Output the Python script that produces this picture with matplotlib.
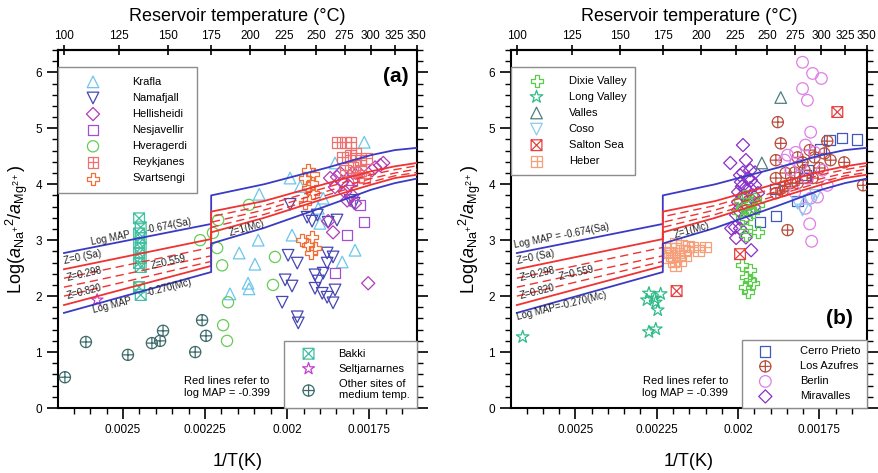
import numpy as np
import matplotlib
matplotlib.use("Agg")
import matplotlib.pyplot as plt
from matplotlib.path import Path
from matplotlib.ticker import MultipleLocator, FuncFormatter, NullLocator

plt.rcParams['font.family'] = ['Liberation Sans', 'DejaVu Sans']
plt.rcParams['mathtext.fontset'] = 'custom'
plt.rcParams['mathtext.rm'] = 'Liberation Sans'
plt.rcParams['mathtext.it'] = 'Liberation Sans:italic'

# ---- model lines (reservoir temperature in degC, log activity ratio) ----
LINE_T = [100, 175, 175, 210, 260, 300, 325, 350]
BLUE_SA = [2.77, 3.29, 3.80, 4.00, 4.30, 4.52, 4.61, 4.65]
RED_Z0 = [2.48, 3.02, 3.51, 3.70, 4.02, 4.23, 4.32, 4.38]
DASH_Z0298 = [2.32, 2.87, 3.42, 3.62, 3.95, 4.17, 4.26, 4.33]
DASH_Z0559 = [2.16, 2.72, 3.32, 3.54, 3.88, 4.10, 4.20, 4.27]
DASH_Z0820 = [2.00, 2.62, 3.23, 3.46, 3.81, 4.04, 4.15, 4.21]
RED_Z1 = [1.84, 2.54, 3.14, 3.40, 3.76, 3.99, 4.11, 4.17]
BLUE_MC = [1.70, 2.43, 2.94, 3.22, 3.62, 3.90, 4.02, 4.10]

TOP_TICKS_C = [100, 125, 150, 175, 200, 225, 250, 275, 300, 325, 350]
BOTTOM_TICKS = [0.0025, 0.00225, 0.002, 0.00175]

# ---- panel (a): Iceland ----
KRAFLA_X = [0.002085, 0.002088, 0.002146, 0.002098, 0.002119, 0.002116, 0.002174, 0.001991, 0.00196,
            0.001985, 0.0019, 0.00189, 0.001905, 0.001854, 0.001765, 0.001793, 0.001832]
KRAFLA_Y = [3.82, 3.00, 2.77, 2.57, 2.23, 2.13, 2.04, 4.11, 3.96, 3.09, 3.30, 3.75, 3.57, 4.38, 4.75, 2.82, 2.61]

NAMAFJALL_X = [0.001991, 0.001939, 0.001924, 0.001908, 0.001997, 0.001969, 0.002006, 0.001985, 0.002015,
               0.001969, 0.001966, 0.001915, 0.001905, 0.001915, 0.00189, 0.001878, 0.00186, 0.001878,
               0.001893, 0.001878, 0.00186, 0.001854, 0.001848, 0.001875, 0.001808, 0.001796]
NAMAFJALL_Y = [3.64, 3.41, 3.34, 3.45, 2.73, 2.59, 2.29, 2.18, 1.89, 1.63, 1.52, 2.38, 2.27, 2.14, 2.41,
               2.77, 2.70, 2.59, 2.05, 1.98, 1.88, 2.11, 3.36, 3.32, 3.71, 3.66]

HELLISHEIDI_X = [0.001869, 0.001848, 0.001832, 0.001854, 0.001814, 0.001823, 0.001802, 0.001783, 0.001741,
                 0.001716, 0.001707, 0.001732, 0.001799, 0.001875, 0.00186, 0.001753, 0.001838, 0.001817,
                 0.001793]
HELLISHEIDI_Y = [4.11, 4.13, 4.04, 3.95, 3.98, 3.86, 3.80, 4.21, 4.25, 4.34, 4.38, 4.30, 4.20, 3.34, 3.14,
                 2.23, 4.20, 3.71, 3.66]

NESJAVELLIR_X = [0.001777, 0.001765, 0.001817, 0.001854, 0.001802]
NESJAVELLIR_Y = [3.63, 3.32, 3.09, 2.41, 4.07]

HVERAGERDI_X = [0.002116, 0.00221, 0.002226, 0.002265, 0.002213, 0.002198, 0.00218, 0.002195, 0.002183,
                0.002037, 0.002043, 0.002451]
HVERAGERDI_Y = [3.63, 3.36, 3.13, 3.00, 2.86, 2.55, 1.89, 1.48, 1.20, 2.70, 2.20, 2.16]

REYKJANES_X = [0.001848, 0.001823, 0.001805, 0.001832, 0.001808, 0.00179, 0.001777, 0.001759, 0.001799,
               0.001777, 0.001783, 0.001823, 0.001765]
REYKJANES_Y = [4.75, 4.75, 4.75, 4.48, 4.52, 4.55, 4.43, 4.46, 4.30, 4.25, 4.13, 4.25, 4.11]

SVARTSENGI_X = [0.001936, 0.001921, 0.001945, 0.001924, 0.001936, 0.001921, 0.001945, 0.001954, 0.001924,
                0.001936, 0.001915, 0.001927]
SVARTSENGI_Y = [4.25, 4.18, 4.11, 4.02, 3.93, 3.84, 3.66, 3.00, 3.05, 2.91, 2.86, 2.77]

BAKKI_X = [0.002451, 0.002446, 0.002451, 0.002446, 0.002451, 0.002446, 0.002451, 0.002446, 0.002451,
           0.002446, 0.002451, 0.002446]
BAKKI_Y = [3.39, 3.23, 3.12, 3.04, 2.95, 2.86, 2.77, 2.68, 2.59, 2.52, 2.16, 2.02]

SELTJ_X = [0.002579]
SELTJ_Y = [1.93]

OTHER_X = [0.002677, 0.002613, 0.002485, 0.002412, 0.002387, 0.002378, 0.00228, 0.002259, 0.002247]
OTHER_Y = [0.55, 1.18, 0.95, 1.16, 1.20, 1.38, 1.00, 1.57, 1.29]

# ---- panel (b): USA / Central America ----
DIXIE_X = [0.001994, 0.001979, 0.001963, 0.001948, 0.001985, 0.001969, 0.002, 0.001954, 0.001976, 0.001939,
           0.001976, 0.001976, 0.001963, 0.001976, 0.001954, 0.001979, 0.001963, 0.001969, 0.001988, 0.001939]
DIXIE_Y = [3.71, 3.79, 3.66, 3.73, 3.59, 3.54, 3.50, 3.50, 3.39, 3.14, 3.23, 3.09, 2.46, 2.34, 2.23, 2.16,
           2.29, 2.07, 2.55, 3.63]

LONGV_X = [0.002662, 0.002274, 0.002238, 0.002256, 0.00228, 0.002253, 0.002247, 0.002274, 0.002253]
LONGV_Y = [1.27, 2.05, 2.04, 1.96, 1.93, 1.89, 1.75, 1.36, 1.41]

VALLES_X = [0.001869, 0.001927]
VALLES_Y = [5.55, 4.38]

COSO_X = [0.00178, 0.001762, 0.001802, 0.001817]
COSO_Y = [3.71, 3.80, 3.54, 3.66]

SALTON_X = [0.002189, 0.001994, 0.001695]
SALTON_Y = [2.09, 2.75, 5.29]

HEBER_X = [0.002207, 0.002192, 0.002174, 0.002152, 0.00214, 0.002101, 0.002204, 0.002183, 0.002162,
           0.002198, 0.002177, 0.002192, 0.002122, 0.00221, 0.002165, 0.002216]
HEBER_Y = [2.86, 2.95, 2.91, 2.89, 2.88, 2.88, 2.73, 2.77, 2.73, 2.61, 2.64, 2.54, 2.82, 2.79, 2.82, 2.68]

CERRO_X = [0.001719, 0.00168, 0.001634, 0.001747, 0.001793, 0.001796, 0.001787, 0.001887, 0.001884,
           0.001933, 0.001817]
CERRO_Y = [4.79, 4.82, 4.80, 4.63, 4.16, 4.11, 4.25, 3.91, 3.43, 3.32, 3.70]

AZUFRES_X = [0.001878, 0.001869, 0.001848, 0.001884, 0.001854, 0.001884, 0.001857, 0.001884, 0.001863,
             0.001817, 0.001716, 0.001674, 0.001616, 0.001726, 0.001796, 0.001765, 0.00175, 0.001735,
             0.001826, 0.001838, 0.001817, 0.001802, 0.00178, 0.001771]
AZUFRES_Y = [5.11, 4.73, 3.18, 4.43, 4.20, 4.11, 3.96, 3.84, 3.88, 4.48, 4.43, 4.39, 3.98, 4.77, 4.25, 4.48,
             4.29, 4.55, 4.21, 4.02, 4.02, 4.39, 4.61, 4.11]

BERLIN_X = [0.001802, 0.001771, 0.001744, 0.001802, 0.001787, 0.001777, 0.001793, 0.001765, 0.001848,
            0.001823, 0.001808, 0.001787, 0.001777, 0.001793, 0.00178, 0.001774, 0.001857, 0.001838,
            0.001756, 0.001826, 0.001741, 0.001726]
BERLIN_Y = [6.18, 5.98, 5.89, 5.71, 5.50, 4.93, 4.70, 4.57, 4.52, 4.57, 4.34, 4.11, 3.75, 3.57, 3.29, 2.98,
            4.43, 4.25, 3.77, 3.86, 4.25, 3.98]

MIRAV_X = [0.001985, 0.002024, 0.001976, 0.001985, 0.001963, 0.001948, 0.00196, 0.001991, 0.001948, 0.002,
           0.001979, 0.001939, 0.002, 0.002, 0.002009, 0.001994, 0.001985, 0.002006, 0.001976, 0.00196,
           0.002021, 0.001969, 0.001985, 0.001954, 0.001976, 0.001994, 0.001963, 0.001969, 0.001988,
           0.001951, 0.002006]
MIRAV_Y = [4.70, 4.38, 4.43, 4.21, 4.25, 4.21, 4.07, 4.04, 3.98, 3.86, 3.93, 3.84, 3.68, 3.54, 3.23, 3.21,
           3.36, 3.04, 3.05, 2.82, 3.21, 4.11, 3.80, 3.80, 3.63, 4.16, 3.93, 3.71, 3.96, 3.59, 3.45]

BLUE = '#3a3ac4'
RED = '#f03232'

M, L, C = Path.MOVETO, Path.LINETO, Path.CLOSEPOLY
SQUARE_X = Path([(-1, -1), (1, -1), (1, 1), (-1, 1), (-1, -1), (-1, -1), (1, 1), (-1, 1), (1, -1)],
                [M, L, L, L, C, M, L, M, L])
SQUARE_PLUS = Path([(-1, -1), (1, -1), (1, 1), (-1, 1), (-1, -1), (0, -1), (0, 1), (-1, 0), (1, 0)],
                   [M, L, L, L, C, M, L, M, L])
CIRCLE_PLUS = Path.make_compound_path(Path.unit_circle(),
                                      Path([(0, -1), (0, 1), (-1, 0), (1, 0)], [M, L, M, L]))


def inv_t(t):
    return 1.0 / (np.asarray(t, dtype=float) + 273.15)


def to_celsius(u):
    u = np.asarray(u, dtype=float)
    with np.errstate(divide='ignore'):
        return np.where(u > 0, 1.0 / np.where(u > 0, u, 1.0) - 273.15, 1e9)


def pts(ax, x, y, marker, color, label, s=55, lw=0.9):
    return ax.scatter(x, y, marker=marker, s=s, facecolors='none', edgecolors=color,
                      linewidths=lw, label=label, zorder=3)


def draw_model(ax):
    u = inv_t(LINE_T)
    ax.plot(u, BLUE_SA, color=BLUE, lw=1.3, zorder=4)
    ax.plot(u, RED_Z0, color=RED, lw=1.3, zorder=4)
    for vals in (DASH_Z0298, DASH_Z0559, DASH_Z0820):
        ax.plot(u, vals, color=RED, lw=1.0, dashes=(6, 3.5), zorder=4)
    ax.plot(u, RED_Z1, color=RED, lw=1.3, zorder=4)
    ax.plot(u, BLUE_MC, color=BLUE, lw=1.3, zorder=4)


def line_text(ax, x, y, s, rot):
    ax.text(x, y, s, fontsize=7, rotation=rot, rotation_mode='anchor', ha='left', va='baseline',
            color='#222222', zorder=5)


def style(ax):
    ax.set_xlim(0.002698, 0.001604)
    ax.set_ylim(0, 6.4)
    ax.set_xticks(BOTTOM_TICKS)
    ax.xaxis.set_major_formatter(FuncFormatter(lambda v, p: '%g' % v))
    ax.xaxis.set_minor_locator(MultipleLocator(0.00005))
    ax.yaxis.set_major_locator(MultipleLocator(1))
    ax.yaxis.set_minor_locator(MultipleLocator(0.2))
    ax.tick_params(which='major', direction='out', length=8, width=1.2, labelsize=8.5)
    ax.tick_params(which='minor', direction='out', length=4, width=1.0)
    ax.tick_params(axis='y', which='both', right=True)
    ax.tick_params(axis='x', which='both', top=False)
    for sp in ax.spines.values():
        sp.set_linewidth(1.5)
    ax.set_xlabel('1/T(K)', fontsize=13, labelpad=12)
    ax.set_ylabel(r'Log($a_{\mathrm{Na}^{+}}{}^{2}/a_{\mathrm{Mg}^{2+}}$)', fontsize=13, labelpad=4)
    sec = ax.secondary_xaxis('top', functions=(to_celsius, inv_t))
    sec.set_xticks(TOP_TICKS_C)
    sec.xaxis.set_minor_locator(NullLocator())
    sec.tick_params(direction='inout', length=7, width=1.2, labelsize=8.5, pad=2)
    sec.spines['top'].set_linewidth(1.5)
    sec.set_xlabel('Reservoir temperature (°C)', fontsize=13, labelpad=7)


def legend(ax, handles, loc, anchor, **kw):
    leg = ax.legend(handles=handles, loc=loc, bbox_to_anchor=anchor, borderaxespad=0, fontsize=8,
                    fancybox=False, framealpha=1, edgecolor='#8c8c8c', scatterpoints=1, **kw)
    leg.get_frame().set_linewidth(1.0)
    leg.set_zorder(6)
    return leg


fig = plt.figure(figsize=(8.79, 4.73), dpi=100)
ax1 = fig.add_axes([0.066, 0.1374, 0.4085, 0.757])
ax2 = fig.add_axes([0.5813, 0.1374, 0.405, 0.757])

# ---------- panel (a) ----------
draw_model(ax1)
h_kr = pts(ax1, KRAFLA_X, KRAFLA_Y, '^', '#6cc6ea', 'Krafla', s=70)
h_na = pts(ax1, NAMAFJALL_X, NAMAFJALL_Y, 'v', '#4646b4', 'Namafjall', s=70)
h_he = pts(ax1, HELLISHEIDI_X, HELLISHEIDI_Y, 'D', '#b03cb8', 'Hellisheidi', s=45)
h_ne = pts(ax1, NESJAVELLIR_X, NESJAVELLIR_Y, 's', '#a050d0', 'Nesjavellir', s=55)
h_hv = pts(ax1, HVERAGERDI_X, HVERAGERDI_Y, 'o', '#66cc55', 'Hveragerdi', s=65)
h_re = pts(ax1, REYKJANES_X, REYKJANES_Y, SQUARE_PLUS, '#f07070', 'Reykjanes', s=60)
h_sv = pts(ax1, SVARTSENGI_X, SVARTSENGI_Y, 'P', '#f07038', 'Svartsengi', s=75)
h_ba = pts(ax1, BAKKI_X, BAKKI_Y, SQUARE_X, '#40c0a0', 'Bakki', s=60)
h_se = pts(ax1, SELTJ_X, SELTJ_Y, '*', '#c040d0', 'Seltjarnarnes', s=80)
h_ot = pts(ax1, OTHER_X, OTHER_Y, CIRCLE_PLUS, '#3d6b6b', 'Other sites of\nmedium temp.', s=65)

line_text(ax1, 0.002595, 2.91, 'Log MAP', 11)
line_text(ax1, 0.002427, 3.13, '-0.674(Sa)', 11)
line_text(ax1, 0.002677, 2.57, 'Z=0 (Sa)', 12)
line_text(ax1, 0.002668, 2.27, 'Z=0.298', 13)
line_text(ax1, 0.002412, 2.48, 'Z=0.559', 13)
line_text(ax1, 0.002668, 1.95, 'Z=0.820', 14)
line_text(ax1, 0.002591, 1.70, 'Log MAP', 14)
line_text(ax1, 0.002427, 2.00, '-0.270(Mc)', 14)
line_text(ax1, 0.002174, 3.07, 'Z=1(Mc)', 16)

ax1.text(0.47, 0.058, 'Red lines refer to\nlog MAP = -0.399', transform=ax1.transAxes, fontsize=8,
         ha='center', va='center', linespacing=1.3)
ax1.text(0.94, 0.925, '(a)', transform=ax1.transAxes, fontsize=15, fontweight='bold',
         ha='center', va='center')

leg1 = legend(ax1, [h_kr, h_na, h_he, h_ne, h_hv, h_re, h_sv], 'upper left', (0, 0.953),
              labelspacing=0.55, borderpad=0.9, handlelength=4.5, handletextpad=1.3)
ax1.add_artist(leg1)
legend(ax1, [h_ba, h_se, h_ot], 'lower right', (1, 0),
       labelspacing=0.45, borderpad=0.7, handlelength=3.0, handletextpad=1.2)
style(ax1)

# ---------- panel (b) ----------
draw_model(ax2)
h_mi = pts(ax2, MIRAV_X, MIRAV_Y, 'D', '#8a2fc8', 'Miravalles', s=45)
h_ce = pts(ax2, CERRO_X, CERRO_Y, 's', '#4058c0', 'Cerro Prieto', s=55)
h_az = pts(ax2, AZUFRES_X, AZUFRES_Y, CIRCLE_PLUS, '#b85040', 'Los Azufres', s=65)
h_be = pts(ax2, BERLIN_X, BERLIN_Y, 'o', '#e07ee8', 'Berlin', s=70)
h_di = pts(ax2, DIXIE_X, DIXIE_Y, 'P', '#5acb4a', 'Dixie Valley', s=75)
h_lv = pts(ax2, LONGV_X, LONGV_Y, '*', '#2dbb88', 'Long Valley', s=90)
h_va = pts(ax2, VALLES_X, VALLES_Y, '^', '#4f7f7f', 'Valles', s=70)
h_co = pts(ax2, COSO_X, COSO_Y, 'v', '#8ccbee', 'Coso', s=70)
h_sa = pts(ax2, SALTON_X, SALTON_Y, SQUARE_X, '#e84040', 'Salton Sea', s=60)
h_hb = pts(ax2, HEBER_X, HEBER_Y, SQUARE_PLUS, '#f5a07a', 'Heber', s=60)

line_text(ax2, 0.002686, 2.86, 'Log MAP = -0.674(Sa)', 11)
line_text(ax2, 0.002677, 2.57, 'Z=0 (Sa)', 12)
line_text(ax2, 0.002668, 2.27, 'Z=0.298', 13)
line_text(ax2, 0.002549, 2.29, 'Z=0.559', 13)
line_text(ax2, 0.002668, 1.95, 'Z=0.820', 14)
line_text(ax2, 0.002677, 1.57, 'Log MAP=-0.270(Mc)', 14)
line_text(ax2, 0.002192, 3.04, 'Z=1(Mc)', 16)

ax2.text(0.49, 0.058, 'Red lines refer to\nlog MAP = -0.399', transform=ax2.transAxes, fontsize=8,
         ha='center', va='center', linespacing=1.3)
ax2.text(0.924, 0.251, '(b)', transform=ax2.transAxes, fontsize=15, fontweight='bold',
         ha='center', va='center')

leg3 = legend(ax2, [h_di, h_lv, h_va, h_co, h_sa, h_hb], 'upper left', (0, 0.953),
              labelspacing=0.55, borderpad=0.8, handlelength=3.0, handletextpad=1.4)
ax2.add_artist(leg3)
legend(ax2, [h_ce, h_az, h_be, h_mi], 'lower right', (1, 0),
       labelspacing=0.45, borderpad=0.6, handlelength=3.0, handletextpad=1.6)
style(ax2)

fig.savefig('out.png', dpi=100)
